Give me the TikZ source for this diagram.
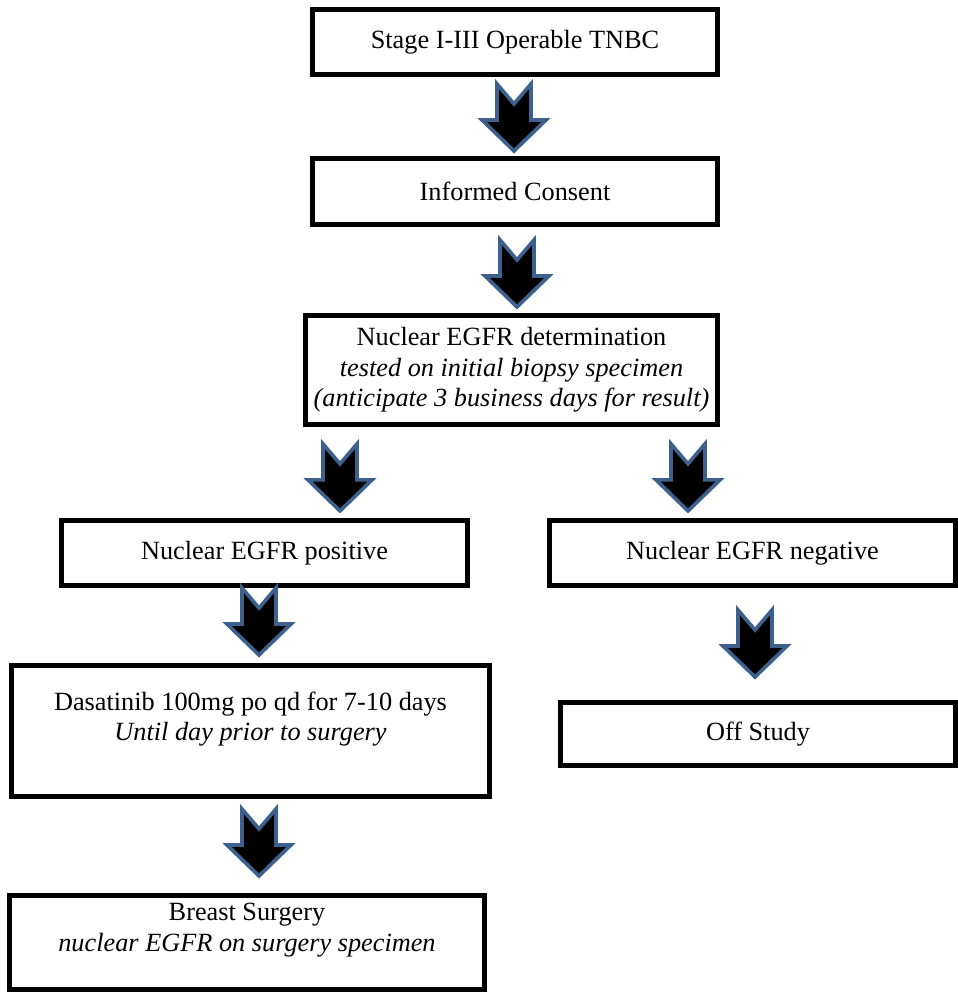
\documentclass[tikz,border=0pt]{standalone}
\usepackage{fontspec}
\setmainfont{Liberation Serif}
\usepackage{tikz}
\usetikzlibrary{positioning}

\definecolor{arrowblue}{RGB}{62,96,140}

\begin{document}
\begin{tikzpicture}[
    x=0.025cm, y=-0.025cm,
    box/.style={rectangle, draw=black, line width=3.5pt, fill=white, inner sep=0pt, align=center, font=\fontsize{18.7pt}{21.5pt}\selectfont},
    downarrow/.pic={\filldraw[fill=black, draw=arrowblue, line width=2.6pt, line join=miter]
        (-17,2) -- (0,22) -- (17,2) -- (17,38) -- (32,38) -- (0,69) -- (-32,38) -- (-17,38) -- cycle;}
]
\useasboundingbox (0,0) rectangle (958,992);

% main column
\node (stage) [box, minimum width=10.125cm, minimum height=1.625cm] at (515,42) {Stage I-III Operable TNBC};
\node (consent) [box, minimum width=10.125cm, minimum height=1.65cm, below=1.975cm of stage] {Informed Consent};
\node (egfr) [box, minimum width=10.3cm, minimum height=2.725cm, below=2.15cm of consent, xshift=-0.0875cm]
    {Nuclear EGFR determination\\ \textit{tested on initial biopsy specimen}\\ \textit{(anticipate 3 business days for result)}};

% branches
\node (positive) [box, minimum width=10.15cm, minimum height=1.625cm] at (264.5,553) {Nuclear EGFR positive};
\node (negative) [box, minimum width=10.15cm, minimum height=1.625cm] at (752.5,553) {Nuclear EGFR negative};
\node (dasatinib) [box, minimum width=11.95cm, minimum height=3.275cm, below=1.875cm of positive, xshift=-0.35cm]
    {Dasatinib 100mg po qd for 7-10 days\\ \textit{Until day prior to surgery}\\ \mbox{}};
\node (offstudy) [box, minimum width=9.875cm, minimum height=1.575cm, below=2.8cm of negative, xshift=0.1375cm] {Off Study};
\node (surgery) [box, minimum width=11.875cm, minimum height=2.35cm, below=2.35cm of dasatinib, xshift=-0.0875cm]
    {Breast Surgery\\ \textit{nuclear EGFR on surgery specimen}\\ \mbox{}};

% block arrows
\pic at ([shift={(-1,5)}]stage.south) {downarrow};
\pic at ([shift={(2,11)}]consent.south) {downarrow};
\pic at ([shift={(-171.5,15)}]egfr.south) {downarrow};
\pic at ([shift={(176.5,15)}]egfr.south) {downarrow};
\pic at ([shift={(-5.5,-2)}]positive.south) {downarrow};
\pic at ([shift={(2.5,20)}]negative.south) {downarrow};
\pic at ([shift={(8.5,8)}]dasatinib.south) {downarrow};
\end{tikzpicture}
\end{document}
